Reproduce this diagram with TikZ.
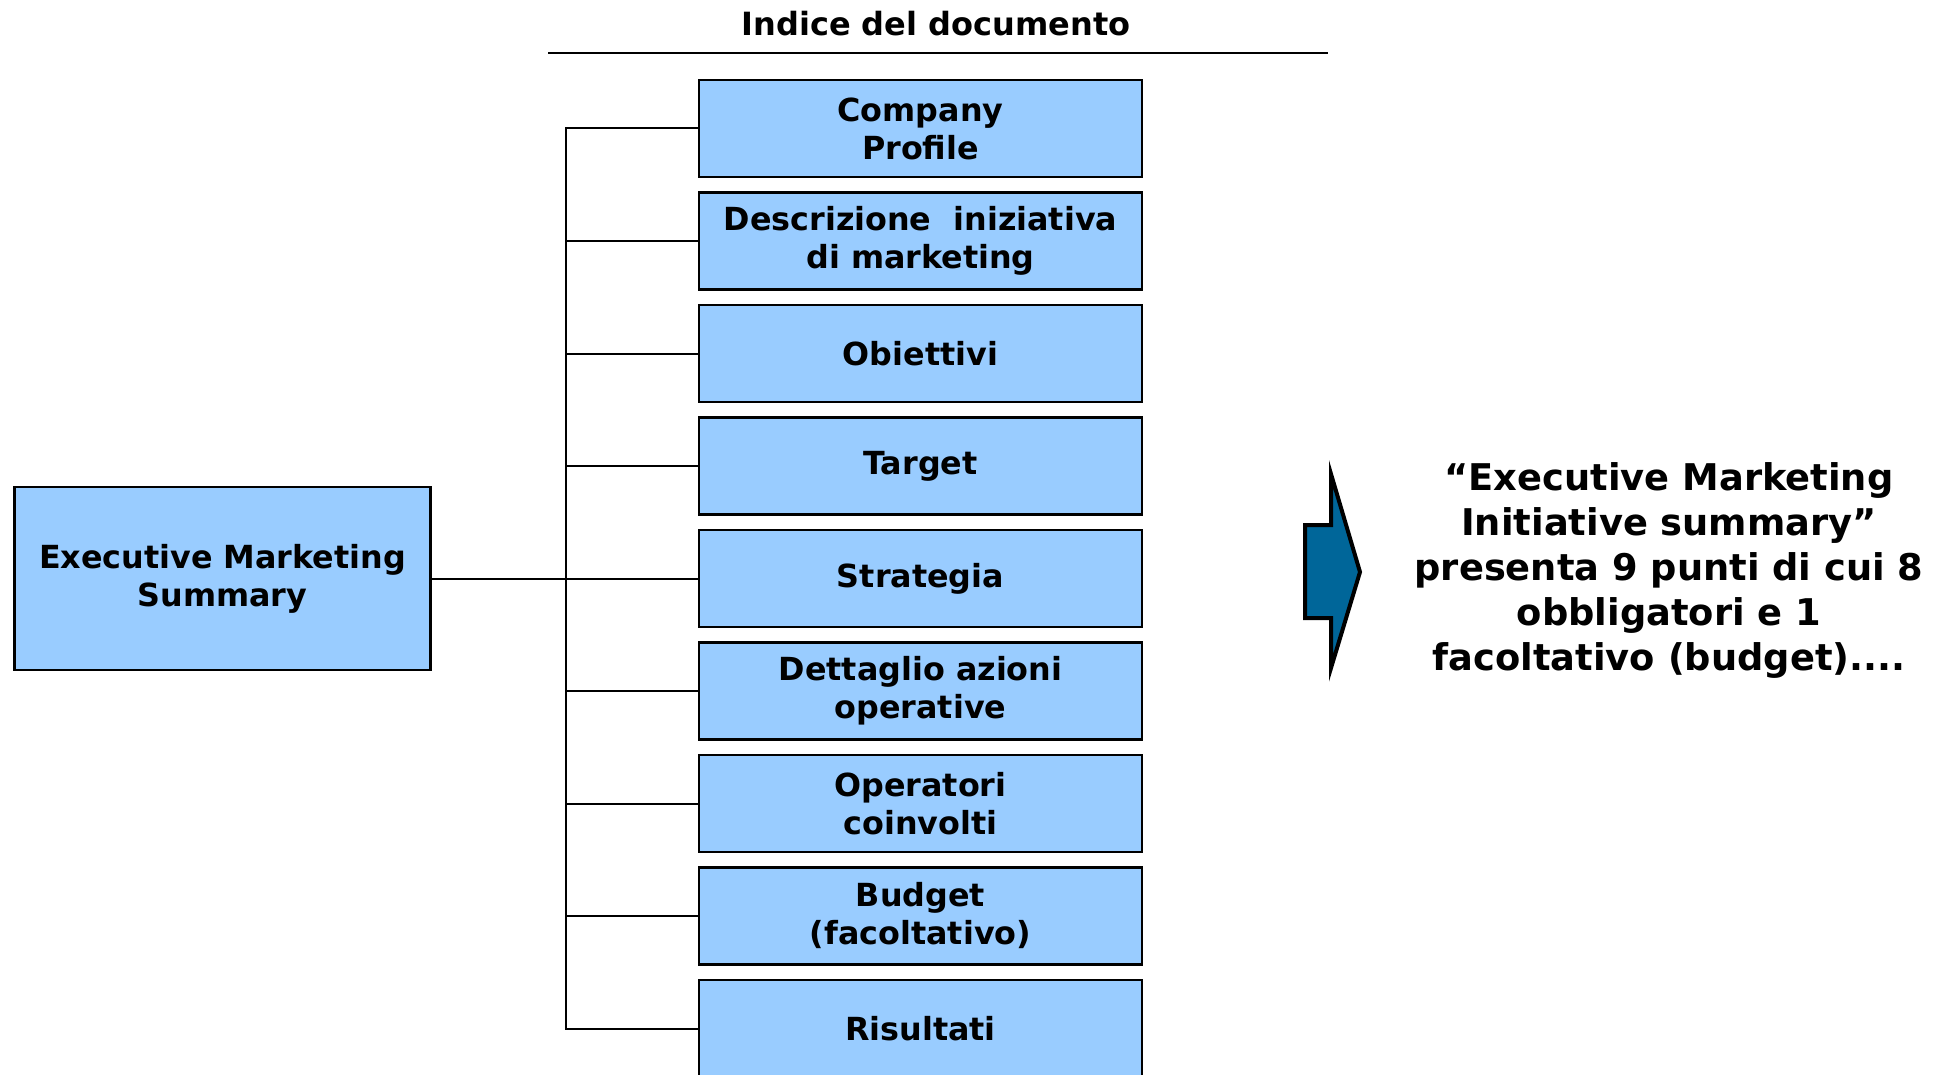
\documentclass[tikz,border=0pt]{standalone}
\usepackage{fontspec}
\setmainfont{DejaVu Sans}
\usetikzlibrary{positioning}
\definecolor{boxblue}{RGB}{153,204,255}
\definecolor{arrowblue}{RGB}{0,102,153}
\tikzset{
  voce/.style={draw=black, line width=2.5pt, fill=boxblue, minimum width=443pt,
    minimum height=97pt, inner sep=0pt, align=center,
    font=\fontsize{31.8}{38}\selectfont\bfseries},
  ramo/.style={draw=black, line width=2pt},
  titolo/.style={inner sep=0pt, font=\fontsize{32}{36}\selectfont\bfseries},
  nota/.style={inner sep=0pt, align=center, font=\fontsize{36.8}{45}\selectfont\bfseries}
}
\begin{document}
\begin{tikzpicture}[x=1pt,y=-1pt]
\path[use as bounding box, clip] (0,0) rectangle (1941,1075);
\node[titolo] (titolo) at (936,24) {Indice del documento};
\draw[line width=2pt] (548,53) -- (1328,53);
\node[voce] (i1) at (920.5,128.5) {Company\\Profile};
\node[voce, below=13pt of i1] (i2) {Descrizione~ iniziativa\\di marketing};
\node[voce, below=13pt of i2] (i3) {Obiettivi};
\node[voce, below=13pt of i3] (i4) {Target};
\node[voce, below=13pt of i4] (i5) {Strategia};
\node[voce, below=13pt of i5] (i6) {Dettaglio azioni\\operative};
\node[voce, below=13pt of i6] (i7) {Operatori\\coinvolti};
\node[voce, below=13pt of i7] (i8) {Budget\\(facoltativo)};
\node[voce, below=13pt of i8] (i9) {Risultati};
\node[voce, minimum width=416pt, minimum height=183pt, left=266pt of i5] (ems) {Executive Marketing\\Summary};
\draw[ramo] (ems.east) -- ++(134,0) coordinate (bus);
\foreach \i in {1,...,9}
  \draw[ramo] (bus) |- (i\i.west);
\filldraw[fill=arrowblue, draw=black, line width=4pt, line join=miter]
  (1305,525) -- (1331,525) -- (1331,474) -- (1360,572) -- (1331,668)
  -- (1331,618) -- (1305,618) -- cycle;
\node[nota] (nota) at (1669,570) {“Executive Marketing\\Initiative summary”\\presenta 9 punti di cui 8\\obbligatori e 1\\facoltativo (budget)....};
\end{tikzpicture}
\end{document}
